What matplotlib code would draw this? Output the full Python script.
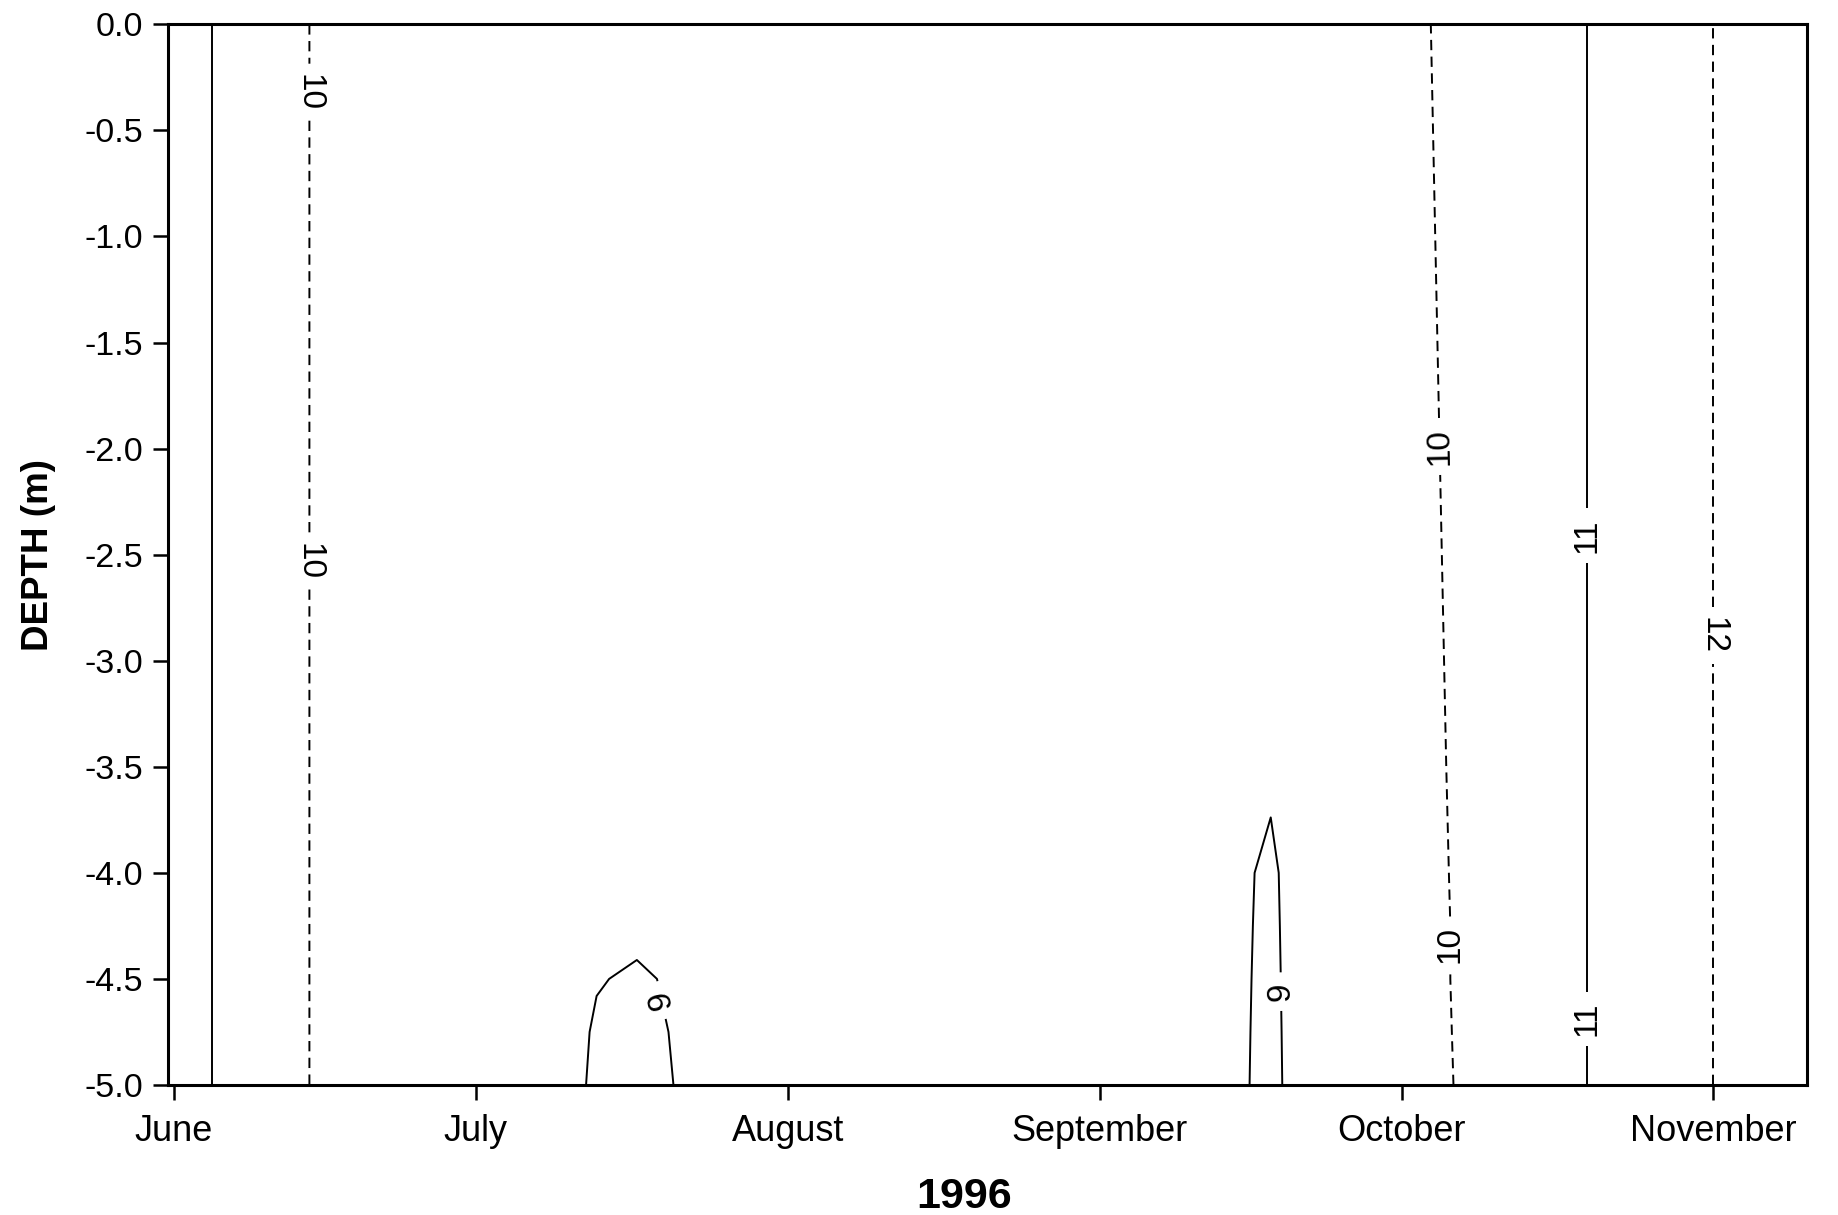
import matplotlib
matplotlib.use('Agg')

import numpy as np
import pandas as pd
import matplotlib.pyplot as plt
import matplotlib.dates as mdates
from matplotlib.ticker import MultipleLocator, FormatStrFormatter

plt.rcParams['font.family'] = 'Liberation Sans'
plt.rcParams['axes.unicode_minus'] = False

# Sampling dates (1996) and temperature (deg C) read at each depth.
sample_dates = ['1996-05-31', '1996-06-09', '1996-06-16', '1996-06-25', '1996-07-04',
                '1996-07-09', '1996-07-13', '1996-07-17', '1996-07-21', '1996-07-27',
                '1996-08-05', '1996-08-15', '1996-08-25', '1996-09-04', '1996-09-10',
                '1996-09-15', '1996-09-18', '1996-09-20', '1996-09-26', '1996-10-01',
                '1996-10-09', '1996-10-15', '1996-10-23', '1996-10-29', '1996-11-04',
                '1996-11-11']
depths = [0.0, -3.5, -4.0, -4.25, -4.5, -4.75, -5.0]

temp_0m = [11.45, 10.6, 9.83, 9.62, 9.5, 9.45, 9.4, 9.35, 9.35, 9.3, 9.3, 9.35, 9.3,
           9.25, 9.25, 9.2, 9.21, 9.35, 9.6, 9.8, 10.35, 10.75, 11.2, 11.8, 12.2, 12.5]
temp_3_5m = [11.45, 10.6, 9.83, 9.62, 9.5, 9.45, 9.4, 9.35, 9.35, 9.3, 9.3, 9.35, 9.3,
             9.25, 9.25, 9.2, 9.21, 9.35, 9.6, 9.8, 10.16, 10.75, 11.2, 11.8, 12.2, 12.5]
temp_4_0m = [11.45, 10.6, 9.83, 9.62, 9.5, 9.45, 9.4, 9.35, 9.35, 9.3, 9.3, 9.35, 9.3,
             9.25, 9.25, 9.2, 8.77, 9.35, 9.6, 9.8, 10.14, 10.75, 11.2, 11.8, 12.2, 12.5]
temp_4_25m = [11.45, 10.6, 9.83, 9.62, 9.5, 9.45, 9.2, 9.18, 9.2, 9.3, 9.3, 9.35, 9.3,
              9.25, 9.25, 9.2, 8.71, 9.35, 9.6, 9.8, 10.13, 10.75, 11.2, 11.8, 12.2, 12.5]
temp_4_5m = [11.45, 10.6, 9.83, 9.62, 9.5, 9.45, 9.045, 8.9, 9.1, 9.3, 9.3, 9.35, 9.3,
             9.25, 9.25, 9.2, 8.65, 9.35, 9.6, 9.8, 10.13, 10.75, 11.2, 11.8, 12.2, 12.5]
temp_4_75m = [11.45, 10.6, 9.83, 9.62, 9.5, 9.45, 8.905, 8.78, 9.06, 9.3, 9.3, 9.35, 9.3,
              9.25, 9.25, 9.2, 8.59, 9.35, 9.6, 9.8, 10.12, 10.75, 11.2, 11.8, 12.2, 12.5]
temp_5_0m = [11.45, 10.6, 9.83, 9.62, 9.5, 9.45, 8.84, 8.70, 9.03, 9.3, 9.3, 9.35, 9.3,
             9.25, 9.25, 9.2, 8.53, 9.35, 9.6, 9.8, 10.11, 10.75, 11.2, 11.8, 12.2, 12.5]

levels = [9, 10, 11, 12]

DASH = (0, (5.3, 3.3))
level_styles = ['solid', DASH, 'solid', DASH]

# where the isotherm labels sit (date, depth)
label_spots = [('1996-06-14 11:00', -0.32), ('1996-06-14 11:00', -2.53),
               ('1996-07-19 10:00', -4.60), ('1996-09-19 00:00', -4.56),
               ('1996-10-04 22:00', -1.99), ('1996-10-05 17:00', -4.34),
               ('1996-10-19 10:00', -2.41), ('1996-10-19 10:00', -4.69),
               ('1996-10-31 22:00', -2.88)]

x = mdates.date2num(pd.to_datetime(sample_dates))
grid = np.array([temp_0m, temp_3_5m, temp_4_0m, temp_4_25m,
                 temp_4_5m, temp_4_75m, temp_5_0m])

fig = plt.figure(figsize=(18.38, 12.15), dpi=100)
ax = fig.add_axes([0.0914, 0.107, 0.8917, 0.873])

cs = ax.contour(x, depths, grid, levels=levels, colors='black',
                linewidths=1.4, linestyles=level_styles)

spots = [(mdates.date2num(pd.Timestamp(d)), z) for d, z in label_spots]
labels = ax.clabel(cs, manual=spots, inline=True, inline_spacing=10,
                   fmt='%d', fontsize=24)
for t in labels:
    r = t.get_rotation()
    t.set_rotation(r - 180 if r > 0 else r)

ax.set_xlim(mdates.date2num(pd.Timestamp('1996-05-31 09:36')),
            mdates.date2num(pd.Timestamp('1996-11-10 07:00')))
ax.set_ylim(-5.0, 0.0)

ax.xaxis.set_major_locator(mdates.MonthLocator())
ax.xaxis.set_major_formatter(mdates.DateFormatter('%B'))
ax.yaxis.set_major_locator(MultipleLocator(0.5))
ax.yaxis.set_major_formatter(FormatStrFormatter('%.1f'))

for s in ax.spines.values():
    s.set_linewidth(2.2)
ax.tick_params(axis='both', direction='out', length=11, width=1.8)
ax.tick_params(axis='y', labelsize=24.5, pad=7)
ax.tick_params(axis='x', labelsize=26, pad=10)

ax.set_ylabel('DEPTH (m)', fontsize=26.5, fontweight='bold', labelpad=20)
ax.set_xlabel('1996', fontsize=31, fontweight='bold', labelpad=20)
ax.xaxis.label.set_x(0.486)

fig.savefig('out.png', dpi=100)
